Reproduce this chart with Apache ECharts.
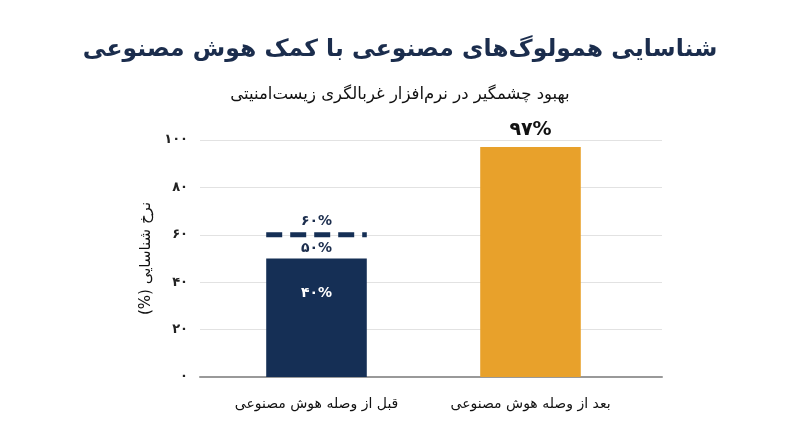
<!DOCTYPE html>
<html lang="fa">

<head>
    <meta charset="UTF-8">
    <meta name="viewport" content="width=device-width, initial-scale=1.0">
    <title>eCharts</title>
    <script src="https://cdn.jsdelivr.net/npm/echarts@6.0.0/dist/echarts.min.js"></script>
    <style>
        html, body { margin: 0; padding: 0; background: #fff; }
    </style>
</head>

<body>
    <div id="main" style="width: 800px;height:447px;"></div>
    <script type="text/javascript">
        // chart data
        const categories = ['قبل از وصله هوش مصنوعی', 'بعد از وصله هوش مصنوعی'];
        const detectionRate = [50, 97];
        const barColors = ['#152f55', '#e8a12b'];
        // range shown on the "before" bar: low, mid, high
        const beforeRange = [40, 50, 60];
        const yTicks = [0, 20, 40, 60, 80, 100];

        const FONT = "'DejaVu Sans', 'Noto Sans', sans-serif";
        const RLM = '\u200F';

        // latin digits -> persian digits
        function fa(n) {
            return String(n).replace(/\d/g, d => '۰۱۲۳۴۵۶۷۸۹'[d]);
        }

        let myChart = echarts.init(document.getElementById('main'));

        let options = {
            animation: false,
            title: [{
                text: 'شناسایی همولوگ‌های مصنوعی با کمک هوش مصنوعی',
                left: 'center',
                top: 33,
                textStyle: { fontFamily: FONT, fontSize: 23.5, fontWeight: 'bold', color: '#1b2d4d' }
            }, {
                text: 'بهبود چشمگیر در نرم‌افزار غربالگری زیست‌امنیتی',
                left: 'center',
                top: 81,
                textStyle: { fontFamily: FONT, fontSize: 16.5, fontWeight: 'normal', color: '#111' }
            }],
            grid: [
                { left: 200, right: 138, top: 140, bottom: 70 },
                { left: 209.5, right: 162.5, top: 140, bottom: 70 }
            ],
            xAxis: [{
                gridIndex: 0, type: 'value', min: 0, max: 1,
                axisLine: { show: true, lineStyle: { color: '#999', width: 2 } },
                axisTick: { show: false }, axisLabel: { show: false }, splitLine: { show: false }
            }, {
                gridIndex: 1, type: 'category', data: categories,
                axisLine: { show: false }, axisTick: { show: false },
                axisLabel: { margin: 20, fontFamily: FONT, fontSize: 14, color: '#111' }
            }, {
                gridIndex: 1, type: 'value', min: -0.5, max: 1.5, show: false
            }],
            yAxis: [{
                gridIndex: 0, type: 'value', min: yTicks[0], max: yTicks[yTicks.length - 1], interval: 20,
                name: RLM + 'نرخ شناسایی (%)' + RLM,
                nameLocation: 'middle', nameGap: 45,
                nameTextStyle: { fontFamily: FONT, fontSize: 15, color: '#111' },
                axisLine: { show: false }, axisTick: { show: false },
                axisLabel: { formatter: v => fa(v), margin: 12, fontFamily: FONT, fontSize: 13, fontWeight: 'bold', color: '#222' },
                splitLine: { lineStyle: { color: '#e2e2e2', width: 1 } }
            }, {
                gridIndex: 1, type: 'value', min: 0, max: 100, show: false
            }],
            series: [{
                type: 'bar',
                xAxisIndex: 1, yAxisIndex: 1,
                barWidth: '47%',
                data: detectionRate.map((v, i) => ({
                    value: v,
                    itemStyle: { color: barColors[i] },
                    label: { show: i === 1 }
                })),
                label: {
                    position: 'top', distance: 8,
                    formatter: p => fa(p.value) + '%',
                    fontFamily: FONT, fontSize: 19, fontWeight: 'bold', color: '#111'
                }
            }, {
                // dashed upper bound across the "before" bar
                type: 'line',
                xAxisIndex: 2, yAxisIndex: 1,
                symbol: 'none',
                data: [[-0.235, beforeRange[2]], [0.235, beforeRange[2]]],
                lineStyle: { color: barColors[0], width: 5, type: [16, 8] }
            }, {
                type: 'scatter',
                xAxisIndex: 1, yAxisIndex: 1,
                symbolSize: 0,
                itemStyle: { opacity: 1 },
                data: [
                    { value: [0, beforeRange[2]], label: { position: 'top', distance: 6, color: '#1b2d4d' } },
                    { value: [0, beforeRange[1]], label: { position: 'top', distance: 3, color: '#1b2d4d' } },
                    { value: [0, beforeRange[0]], label: { position: 'bottom', distance: 4, color: '#fff' } }
                ],
                label: {
                    show: true,
                    formatter: p => fa(p.value[1]) + '%',
                    fontFamily: FONT, fontSize: 14, fontWeight: 'bold'
                }
            }]
        };

        myChart.setOption(options);
    </script>
</body>

</html>
